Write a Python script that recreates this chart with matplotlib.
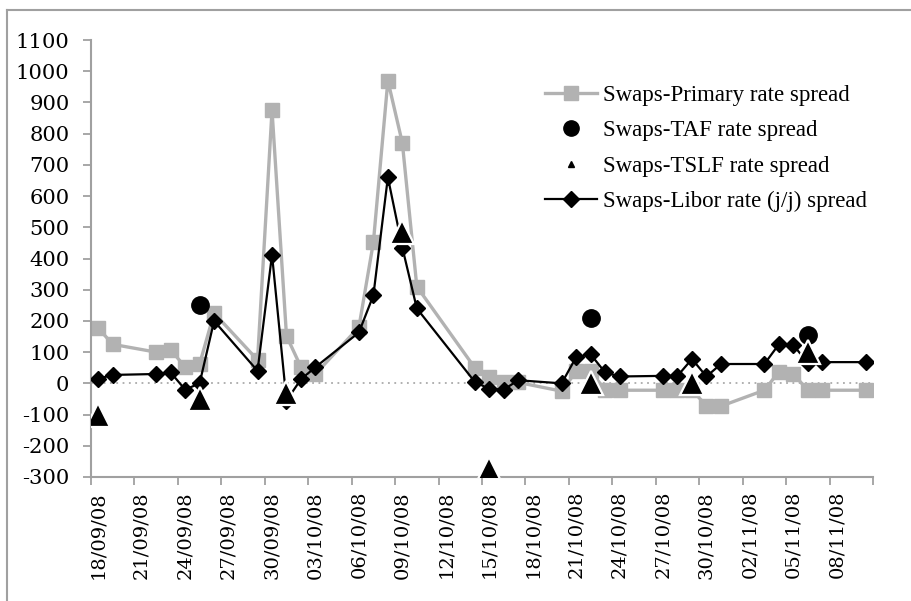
import matplotlib
matplotlib.use("Agg")
import matplotlib.pyplot as plt
from matplotlib.lines import Line2D
import numpy as np
import pandas as pd

# --- data ---
dates = ["18/09/08", "19/09/08", "22/09/08", "23/09/08", "24/09/08", "25/09/08",
         "26/09/08", "29/09/08", "30/09/08", "01/10/08", "02/10/08", "03/10/08",
         "06/10/08", "07/10/08", "08/10/08", "09/10/08", "10/10/08", "14/10/08",
         "15/10/08", "16/10/08", "17/10/08", "20/10/08", "21/10/08", "22/10/08",
         "23/10/08", "24/10/08", "27/10/08", "28/10/08", "29/10/08", "30/10/08",
         "31/10/08", "03/11/08", "04/11/08", "05/11/08", "06/11/08", "07/11/08",
         "10/11/08"]
primary = [177, 125, 100, 108, 52, 62, 225, 75, 875, 152, 52, 30, 180, 452, 970,
           770, 310, 50, 20, 5, 3, -25, 38, 40, -22, -22, -22, -22, -20, -73, -73,
           -22, 37, 30, -22, -22, -22]
libor = [15, 27, 30, 35, -20, 0, 200, 40, 412, -55, 13, 52, 163, 282, 660, 435,
         240, 5, -18, -20, 10, 0, 84, 93, 35, 22, 24, 24, 78, 22, 62, 62, 125, 123,
         65, 68, 68]
taf_dates = ["25/09/08", "22/10/08", "06/11/08"]
taf = [250, 210, 155]
tslf_dates = ["18/09/08", "25/09/08", "01/10/08", "09/10/08", "15/10/08",
              "22/10/08", "29/10/08", "06/11/08"]
tslf = [-100, -50, -30, 485, -275, 0, 0, 100]

start = pd.Timestamp("2008-09-18")
n_days = 54


def day_pos(labels):
    d = pd.to_datetime(labels, format="%d/%m/%y")
    return (d - start).days.values + 0.5


GREY = "#B2B2B2"
AXGREY = "#A0A0A0"
TICKFONT = "DejaVu Serif"
LEGFONT = "Liberation Serif"

fig = plt.figure(figsize=(9.12, 6.01), dpi=100)
ax = fig.add_axes([91 / 912, 1 - 477 / 601, (873 - 91) / 912, (477 - 40) / 601])

ax.axhline(0, color="#AAAAAA", lw=1.3, ls=(0, (1, 2.5)), zorder=1)

ax.plot(day_pos(dates), primary, color=GREY, lw=2.4, marker="s", ms=9.5,
        mec=GREY, mfc=GREY, zorder=2)
ax.plot(day_pos(dates), libor, color="black", lw=1.6, marker="D", ms=8.5,
        mec="black", mfc="black", zorder=3)
ax.plot(day_pos(taf_dates), taf, ls="none", marker="o", ms=12.5,
        mfc="black", mec="black", zorder=4)
ax.plot(day_pos(tslf_dates), tslf, ls="none", marker="^", ms=17,
        mfc="black", mec="white", mew=1.6, zorder=5)

ax.set_xlim(0, n_days)
ax.set_ylim(-300, 1100)
ax.set_yticks(np.arange(-300, 1101, 100))
ax.set_yticklabels([str(v) for v in range(-300, 1101, 100)],
                   family=TICKFONT, fontsize=15.2)

# tick marks on day boundaries, labels centred on the day slot
major = np.arange(0, n_days + 1, 3)
ax.set_xticks(major)
ax.set_xticklabels([])
label_days = major[:-1]
ax.set_xticks(label_days + 0.5, minor=True)
ax.set_xticklabels([(start + pd.Timedelta(days=int(d))).strftime("%d/%m/%y")
                    for d in label_days], minor=True, rotation=90,
                   family=TICKFONT, fontsize=14)
ax.tick_params(axis="x", which="minor", length=0, pad=10)
ax.tick_params(axis="x", which="major", length=6, width=1.3, color=AXGREY,
               direction="out")
ax.tick_params(axis="y", length=6, width=1.3, color=AXGREY, direction="out",
               pad=9.5)

for s in ["top", "right"]:
    ax.spines[s].set_visible(False)
for s in ["left", "bottom"]:
    ax.spines[s].set_color(AXGREY)
    ax.spines[s].set_linewidth(1.5)

handles = [
    Line2D([], [], color=GREY, lw=2.4, marker="s", ms=9.5, mec=GREY, mfc=GREY),
    Line2D([], [], ls="none", marker="o", ms=11, mfc="black", mec="black"),
    Line2D([], [], ls="none", marker="^", ms=5, mfc="black", mec="black"),
    Line2D([], [], color="black", lw=1.6, marker="D", ms=8, mec="black",
           mfc="black"),
]
labels = ["Swaps-Primary rate spread", "Swaps-TAF rate spread",
          "Swaps-TSLF rate spread", "Swaps-Libor rate (j/j) spread"]
fig.legend(handles, labels, loc="upper left", bbox_to_anchor=(545 / 912, 1 - 85 / 601),
           frameon=False, prop={"family": LEGFONT, "size": 16.5},
           handlelength=2.27, handletextpad=0.26, labelspacing=0.62,
           borderpad=0, borderaxespad=0)

# outer chart frame (top and left edges visible)
fig.add_artist(Line2D([7 / 912, 7 / 912], [0, 1 - 10 / 601], color=AXGREY, lw=1.5,
                      transform=fig.transFigure))
fig.add_artist(Line2D([7 / 912, 1], [1 - 10 / 601, 1 - 10 / 601], color=AXGREY,
                      lw=1.5, transform=fig.transFigure))

fig.savefig("out.png", dpi=100)
